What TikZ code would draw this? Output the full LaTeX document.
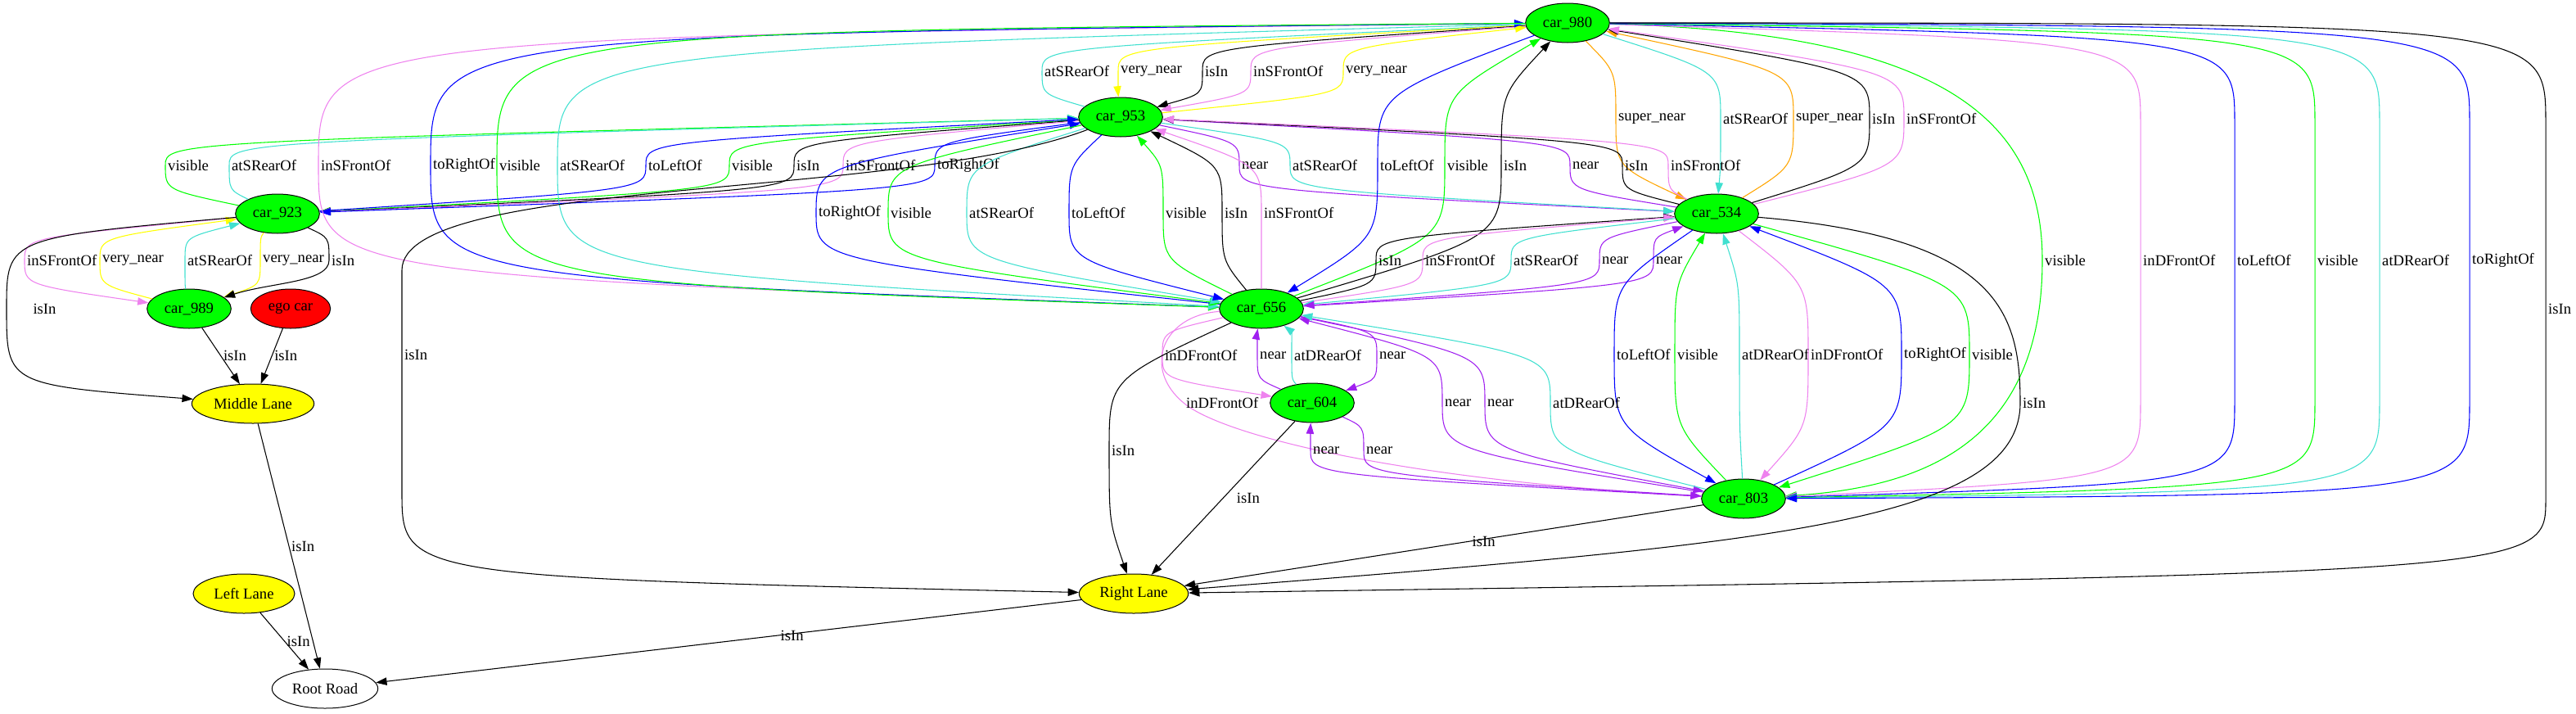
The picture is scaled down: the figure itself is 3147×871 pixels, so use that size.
\documentclass[tikz,border=0pt]{standalone}
\usepackage{fontspec}
\setmainfont{Liberation Serif}
\usepackage{tikz}
\usetikzlibrary{shapes.geometric}
\usetikzlibrary{arrows.meta}
\usepackage{xcolor}
\definecolor{gvgreen}{HTML}{00FF00}
\definecolor{gvblue}{HTML}{0000FF}
\definecolor{gvviolet}{HTML}{EE82EE}
\definecolor{gvturq}{HTML}{40E0D0}
\definecolor{gvyellow}{HTML}{FFFF00}
\definecolor{gvorange}{HTML}{FFA500}
\definecolor{gvpurple}{HTML}{A020F0}
\definecolor{gvred}{HTML}{FF0000}

\begin{document}
\begin{tikzpicture}[
    x=0.75pt, y=-0.75pt,
    every node/.style={font=\fontsize{14}{16}\selectfont},
    car/.style={ellipse, draw, line width=0.75pt, fill=gvgreen, minimum width=77pt, minimum height=36pt, inner sep=0pt},
    lane/.style={ellipse, draw, line width=0.75pt, fill=gvyellow, minimum height=36pt, inner sep=0pt},
    rel/.style={-{Triangle[length=10pt,width=7pt]}, line width=0.8pt},
    isin/.style={rel, draw=black},
    infront/.style={rel, draw=gvviolet},
    atrear/.style={rel, draw=gvturq},
    sideof/.style={rel, draw=gvblue},
    seen/.style={rel, draw=gvgreen},
    vnear/.style={rel, draw=gvyellow},
    snear/.style={rel, draw=gvorange},
    nearby/.style={rel, draw=gvpurple},
    lbl/.style={anchor=west, inner sep=2pt, text=black}
]
    % Page size
    \useasboundingbox (0,0) rectangle (3147,871);

    % Cars
    \node[car] (c980) at (1915,28) {car\_980};
    \node[car] (c953) at (1369,143) {car\_953};
    \node[car] (c923) at (339,261) {car\_923};
    \node[car] (c534) at (2097,261) {car\_534};
    \node[car] (c989) at (231,377) {car\_989};
    \node[car, fill=gvred, minimum width=73pt] (ego) at (355,377) {ego car};
    \node[car] (c656) at (1541,377) {car\_656};
    \node[car] (c604) at (1603,492) {car\_604};
    \node[car] (c803) at (2130,609) {car\_803};

    % Lanes and road
    \node[lane, minimum width=112pt] (mid) at (309,493) {Middle Lane};
    \node[lane, minimum width=93pt] (left) at (298,725) {Left Lane};
    \node[lane, minimum width=100pt] (right) at (1385,725) {Right Lane};
    \node[lane, fill=white, minimum width=97pt] (root) at (397,841) {Root Road};

    % car_980 <-> car_953
    \draw[atrear] (c953) .. controls (1273,115) .. (1273,87) node[lbl] {atSRearOf} .. controls (1273,58) .. (c980);
    \draw[vnear] (c980) .. controls (1366,58) .. (1366,87) node[lbl] {very\_near} .. controls (1366,115) .. (c953);
    \draw[isin] (c980) .. controls (1469,58) .. (1469,87) node[lbl] {isIn} .. controls (1469,115) .. (c953);
    \draw[infront] (c980) .. controls (1528,58) .. (1528,87) node[lbl] {inSFrontOf} .. controls (1528,115) .. (c953);
    \draw[vnear] (c953) .. controls (1641,115) .. (1641,87) node[lbl] {very\_near} .. controls (1641,58) .. (c980);

    % car_980 <-> car_534
    \draw[snear] (c980) .. controls (1974,87) .. (1974,145) node[lbl] {super\_near} .. controls (1974,203) .. (c534);
    \draw[atrear] (c980) .. controls (2102,87) .. (2102,145) node[lbl] {atSRearOf} .. controls (2102,203) .. (c534);
    \draw[snear] (c534) .. controls (2191,203) .. (2191,145) node[lbl] {super\_near} .. controls (2191,87) .. (c980);
    \draw[isin] (c534) .. controls (2284,203) .. (2284,145) node[lbl] {isIn} .. controls (2284,87) .. (c980);
    \draw[infront] (c534) .. controls (2326,203) .. (2326,145) node[lbl] {inSFrontOf} .. controls (2326,87) .. (c980);

    % car_923 <-> car_953
    \draw[seen] (c923) .. controls (202,232) .. (202,202) node[lbl] {visible} .. controls (202,173) .. (c953);
    \draw[atrear] (c923) .. controls (280,232) .. (280,202) node[lbl] {atSRearOf} .. controls (280,173) .. (c953);
    \draw[seen] (c953) .. controls (891,173) .. (891,202) node[lbl] {visible} .. controls (891,232) .. (c923);
    \draw[isin] (c953) .. controls (970,173) .. (970,202) node[lbl] {isIn} .. controls (970,232) .. (c923);
    \draw[infront] (c953) .. controls (1030,173) .. (1030,202) node[lbl] {inSFrontOf} .. controls (1030,232) .. (c923);
    \draw[sideof] (c953) .. controls (1142,173) .. (1142,202) node[lbl] {toRightOf} .. controls (1142,232) .. (c923);
    \draw[sideof] (c923) .. controls (789,232) .. (789,202) node[lbl] {toLeftOf} .. controls (789,173) .. (c953);

    % car_980 <-> car_656, round the left
    \draw[infront] (c980) .. controls (389,45) .. (389,202) node[lbl] {inSFrontOf} .. controls (389,335) .. (c656);
    \draw[sideof] (c656) .. controls (526,340) .. (526,202) node[lbl] {toRightOf} .. controls (526,42) .. (c980);
    \draw[seen] (c980) .. controls (607,38) .. (607,202) node[lbl] {visible} .. controls (607,345) .. (c656);
    \draw[atrear] (c980) .. controls (681,62) .. (681,202) node[lbl] {atSRearOf} .. controls (681,330) .. (c656);

    % car_953 <-> car_534
    \draw[nearby] (c953) .. controls (1514,173) .. (1514,202) node[lbl] {near} .. controls (1514,232) .. (c534);
    \draw[atrear] (c953) .. controls (1576,173) .. (1576,202) node[lbl] {atSRearOf} .. controls (1576,232) .. (c534);
    \draw[nearby] (c534) .. controls (1918,232) .. (1918,202) node[lbl] {near} .. controls (1918,173) .. (c953);
    \draw[isin] (c534) .. controls (1982,232) .. (1982,202) node[lbl] {isIn} .. controls (1982,173) .. (c953);
    \draw[infront] (c534) .. controls (2038,232) .. (2038,202) node[lbl] {inSFrontOf} .. controls (2038,173) .. (c953);

    % car_980 <-> car_656
    \draw[sideof] (c980) .. controls (1683,115) .. (1683,202) node[lbl] {toLeftOf} .. controls (1683,290) .. (c656);
    \draw[seen] (c656) .. controls (1765,290) .. (1765,202) node[lbl] {visible} .. controls (1765,115) .. (c980);
    \draw[isin] (c656) .. controls (1834,290) .. (1834,202) node[lbl] {isIn} .. controls (1834,115) .. (c980);

    % car_953 <-> car_656
    \draw[sideof] (c656) .. controls (997,318) .. (997,260) node[lbl] {toRightOf} .. controls (997,202) .. (c953);
    \draw[seen] (c953) .. controls (1085,202) .. (1085,260) node[lbl] {visible} .. controls (1085,318) .. (c656);
    \draw[atrear] (c953) .. controls (1181,202) .. (1181,260) node[lbl] {atSRearOf} .. controls (1181,318) .. (c656);
    \draw[sideof] (c953) .. controls (1306,202) .. (1306,260) node[lbl] {toLeftOf} .. controls (1306,318) .. (c656);
    \draw[seen] (c656) .. controls (1421,318) .. (1421,260) node[lbl] {visible} .. controls (1421,202) .. (c953);
    \draw[isin] (c656) .. controls (1493,318) .. (1493,260) node[lbl] {isIn} .. controls (1493,202) .. (c953);
    \draw[infront] (c656) .. controls (1541,318) .. (1541,260) node[lbl] {inSFrontOf} .. controls (1541,202) .. (c953);

    % car_923 <-> car_989
    \draw[infront] (c923) .. controls (30,290) .. (30,318) node[lbl] {inSFrontOf} .. controls (30,348) .. (c989);
    \draw[vnear] (c989) .. controls (122,348) .. (122,318) node[lbl] {very\_near} .. controls (122,290) .. (c923);
    \draw[atrear] (c989) .. controls (226,348) .. (226,318) node[lbl] {atSRearOf} .. controls (226,290) .. (c923);
    \draw[vnear] (c923) .. controls (318,290) .. (318,318) node[lbl] {very\_near} .. controls (318,348) .. (c989);
    \draw[isin] (c923) .. controls (402,290) .. (402,318) node[lbl] {isIn} .. controls (402,345) and (330,345) .. (c989);

    % car_656 <-> car_534
    \draw[isin] (c656) .. controls (1681,348) .. (1681,318) node[lbl] {isIn} .. controls (1681,290) .. (c534);
    \draw[infront] (c656) .. controls (1738,348) .. (1738,318) node[lbl] {inSFrontOf} .. controls (1738,290) .. (c534);
    \draw[atrear] (c534) .. controls (1846,290) .. (1846,318) node[lbl] {atSRearOf} .. controls (1846,348) .. (c656);
    \draw[nearby] (c534) .. controls (1954,290) .. (1954,318) node[lbl] {near} .. controls (1954,348) .. (c656);
    \draw[nearby] (c656) .. controls (2020,348) .. (2020,318) node[lbl] {near} .. controls (2020,290) .. (c534);

    % car_980 -> car_803, round the right
    \draw[seen] (c980) .. controls (2380,40) and (2495,150) .. (2495,318) node[lbl] {visible} .. controls (2495,540) and (2350,595) .. (c803);
    \draw[infront] (c980) .. controls (2615,50) .. (2615,150) -- (2615,318) node[lbl] {inDFrontOf} -- (2615,490) .. controls (2615,585) .. (c803);
    \draw[sideof] (c980) .. controls (2730,45) .. (2730,150) -- (2730,318) node[lbl] {toLeftOf} -- (2730,490) .. controls (2730,590) .. (c803);
    \draw[seen] (c980) .. controls (2828,40) .. (2828,150) -- (2828,318) node[lbl] {visible} -- (2828,490) .. controls (2828,595) .. (c803);
    \draw[atrear] (c980) .. controls (2907,36) .. (2907,150) -- (2907,318) node[lbl] {atDRearOf} -- (2907,490) .. controls (2907,600) .. (c803);
    \draw[sideof] (c980) .. controls (3017,32) .. (3017,150) -- (3017,318) node[lbl] {toRightOf} -- (3017,490) .. controls (3017,605) .. (c803);
    \draw[isin] (c980) .. controls (3110,28) .. (3110,150) -- (3110,377) node[lbl] {isIn} -- (3110,610) .. controls (3110,700) .. (right);

    % car_656 <-> car_604
    \draw[infront] (c656) .. controls (1420,405) .. (1420,434) node[lbl] {inDFrontOf} .. controls (1420,463) .. (c604);
    \draw[nearby] (c604) .. controls (1536,463) .. (1536,434) node[lbl] {near} .. controls (1536,405) .. (c656);
    \draw[atrear] (c604) .. controls (1578,463) .. (1578,434) node[lbl] {atDRearOf} .. controls (1578,405) .. (c656);
    \draw[nearby] (c656) .. controls (1682,405) .. (1682,434) node[lbl] {near} .. controls (1682,463) .. (c604);

    % car_534 <-> car_803
    \draw[sideof] (c534) .. controls (1972,347) .. (1972,433) node[lbl] {toLeftOf} .. controls (1972,521) .. (c803);
    \draw[seen] (c803) .. controls (2046,521) .. (2046,433) node[lbl] {visible} .. controls (2046,347) .. (c534);
    \draw[atrear] (c803) .. controls (2125,521) .. (2125,433) node[lbl] {atDRearOf} .. controls (2125,347) .. (c534);
    \draw[infront] (c534) .. controls (2209,347) .. (2209,433) node[lbl] {inDFrontOf} .. controls (2209,521) .. (c803);
    \draw[sideof] (c803) .. controls (2323,521) .. (2323,433) node[lbl] {toRightOf} .. controls (2323,347) .. (c534);
    \draw[seen] (c534) .. controls (2406,347) .. (2406,433) node[lbl] {visible} .. controls (2406,521) .. (c803);

    % car_656 <-> car_803
    \draw[infront] (c656) .. controls (1420,385) and (1395,450) .. (1446,492) node[lbl] {inDFrontOf} .. controls (1490,530) and (1700,585) .. (c803);
    \draw[nearby] (c803) .. controls (1762,550) .. (1762,492) node[lbl] {near} .. controls (1762,434) .. (c656);
    \draw[nearby] (c656) .. controls (1814,434) .. (1814,492) node[lbl] {near} .. controls (1814,550) .. (c803);
    \draw[atrear] (c803) .. controls (1894,550) .. (1894,492) node[lbl] {atDRearOf} .. controls (1894,434) .. (c656);

    % car_604 <-> car_803
    \draw[nearby] (c803) .. controls (1601,580) .. (1601,550) node[lbl] {near} .. controls (1601,521) .. (c604);
    \draw[nearby] (c604) .. controls (1666,521) .. (1666,550) node[lbl] {near} .. controls (1666,580) .. (c803);

    % Cars in lanes
    \draw[isin] (c923) .. controls (8,290) .. (8,377) node[lbl, xshift=22pt] {isIn} .. controls (8,470) .. (mid);
    \draw[isin] (c989) -- node[lbl] {isIn} (mid);
    \draw[isin] (ego) -- node[lbl] {isIn} (mid);
    \draw[isin] (c953) .. controls (1100,245) and (491,215) .. (491,330) -- (491,433) node[lbl] {isIn} -- (491,600) .. controls (491,705) .. (right);
    \draw[isin] (c656) .. controls (1355,463) .. (1355,550) node[lbl] {isIn} .. controls (1355,637) .. (right);
    \draw[isin] (c604) -- node[lbl, xshift=10pt] {isIn} (right);
    \draw[isin] (c534) .. controls (2440,290) and (2468,380) .. (2468,492) node[lbl] {isIn} .. controls (2468,640) and (2150,665) .. (right);
    \draw[isin] (c803) -- node[lbl, pos=0.45] {isIn} (right);

    % Lanes in road
    \draw[isin] (mid) -- node[lbl] {isIn} (root);
    \draw[isin] (left) -- node[lbl] {isIn} (root);
    \draw[isin] (right) -- node[lbl, pos=0.43] {isIn} (root);
\end{tikzpicture}
\end{document}
